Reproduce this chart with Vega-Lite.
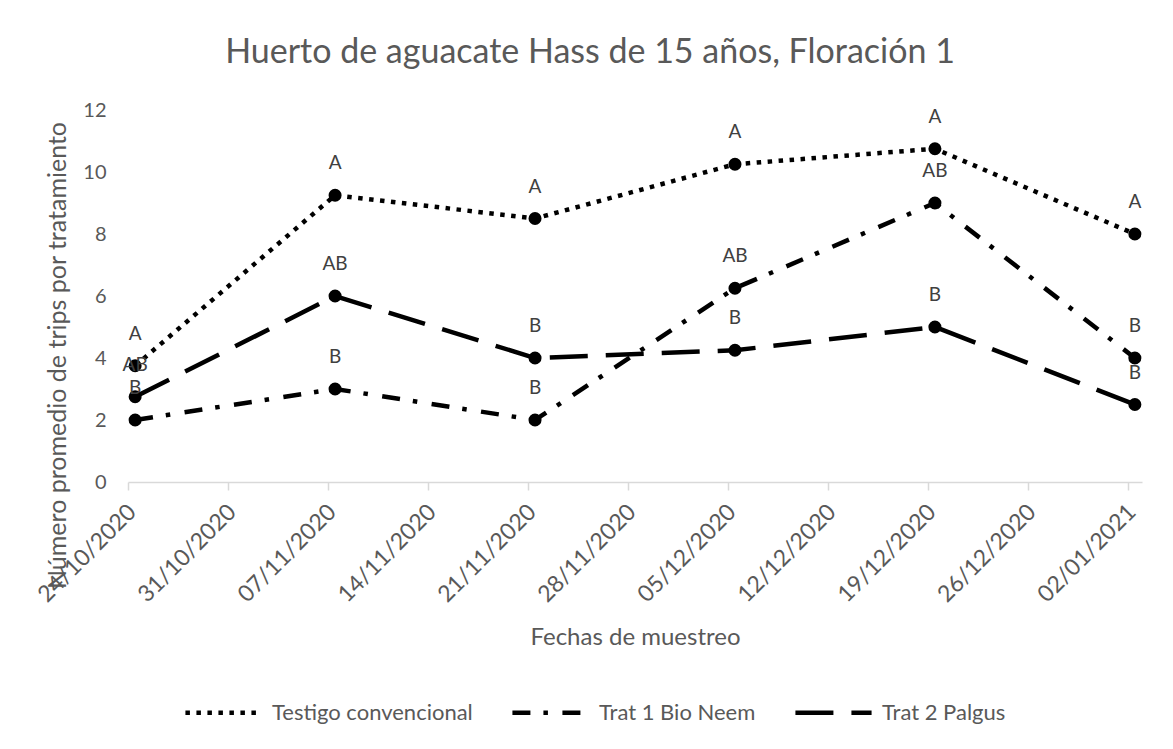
{
  "$schema": "https://vega.github.io/schema/vega-lite/v6.json",
  "width": 1014,
  "height": 372,
  "autosize": {"type": "none"},
  "padding": {"left": 128, "top": 110, "right": 31, "bottom": 267},
  "background": "white",
  "config": {"font": "Lato", "view": {"stroke": null}},
  "title": {
    "text": "Huerto de aguacate Hass de 15 años, Floración 1",
    "fontSize": 34,
    "fontWeight": "normal",
    "color": "#595959",
    "anchor": "middle",
    "dx": -45,
    "offset": 30
  },
  "data": {
    "values": [
      {"fecha": "2020-10-24", "serie": "Testigo convencional", "valor": 3.75, "letra": "A"},
      {"fecha": "2020-11-07", "serie": "Testigo convencional", "valor": 9.25, "letra": "A"},
      {"fecha": "2020-11-21", "serie": "Testigo convencional", "valor": 8.5, "letra": "A"},
      {"fecha": "2020-12-05", "serie": "Testigo convencional", "valor": 10.25, "letra": "A"},
      {"fecha": "2020-12-19", "serie": "Testigo convencional", "valor": 10.75, "letra": "A"},
      {"fecha": "2021-01-02", "serie": "Testigo convencional", "valor": 8, "letra": "A"},
      {"fecha": "2020-10-24", "serie": "Trat 1 Bio Neem", "valor": 2, "letra": "B"},
      {"fecha": "2020-11-07", "serie": "Trat 1 Bio Neem", "valor": 3, "letra": "B"},
      {"fecha": "2020-11-21", "serie": "Trat 1 Bio Neem", "valor": 2, "letra": "B"},
      {"fecha": "2020-12-05", "serie": "Trat 1 Bio Neem", "valor": 6.25, "letra": "AB"},
      {"fecha": "2020-12-19", "serie": "Trat 1 Bio Neem", "valor": 9, "letra": "AB"},
      {"fecha": "2021-01-02", "serie": "Trat 1 Bio Neem", "valor": 4, "letra": "B"},
      {"fecha": "2020-10-24", "serie": "Trat 2 Palgus", "valor": 2.75, "letra": "AB"},
      {"fecha": "2020-11-07", "serie": "Trat 2 Palgus", "valor": 6, "letra": "AB"},
      {"fecha": "2020-11-21", "serie": "Trat 2 Palgus", "valor": 4, "letra": "B"},
      {"fecha": "2020-12-05", "serie": "Trat 2 Palgus", "valor": 4.25, "letra": "B"},
      {"fecha": "2020-12-19", "serie": "Trat 2 Palgus", "valor": 5, "letra": "B"},
      {"fecha": "2021-01-02", "serie": "Trat 2 Palgus", "valor": 2.5, "letra": "B"}
    ]
  },
  "encoding": {
    "x": {
      "field": "fecha",
      "type": "temporal",
      "timeUnit": "utcyearmonthdate",
      "bandPosition": 0.5,
      "scale": {
        "type": "utc",
        "domain": [
          {"year": 2020, "month": 10, "date": 24, "utc": true},
          {"year": 2021, "month": 1, "date": 3, "utc": true}
        ]
      },
      "axis": {
        "values": [
          {"year": 2020, "month": 10, "date": 24, "utc": true},
          {"year": 2020, "month": 10, "date": 31, "utc": true},
          {"year": 2020, "month": 11, "date": 7, "utc": true},
          {"year": 2020, "month": 11, "date": 14, "utc": true},
          {"year": 2020, "month": 11, "date": 21, "utc": true},
          {"year": 2020, "month": 11, "date": 28, "utc": true},
          {"year": 2020, "month": 12, "date": 5, "utc": true},
          {"year": 2020, "month": 12, "date": 12, "utc": true},
          {"year": 2020, "month": 12, "date": 19, "utc": true},
          {"year": 2020, "month": 12, "date": 26, "utc": true},
          {"year": 2021, "month": 1, "date": 2, "utc": true}
        ],
        "labelExpr": "utcFormat(datum.value, '%d/%m/%Y')",
        "labelAngle": -45,
        "labelAlign": "right",
        "labelBaseline": "middle",
        "labelFontSize": 23,
        "labelColor": "#595959",
        "labelPadding": 18,
        "labelOffset": 4,
        "labelOverlap": false,
        "labelFlush": false,
        "domainColor": "#d9d9d9",
        "domainWidth": 1.5,
        "tickColor": "#d9d9d9",
        "tickWidth": 1.5,
        "tickSize": 8,
        "grid": false,
        "title": "Fechas de muestreo",
        "titleFontSize": 24,
        "titleFontWeight": "normal",
        "titleColor": "#595959",
        "titleY": 155,
        "titleBaseline": "middle"
      }
    },
    "y": {
      "field": "valor",
      "type": "quantitative",
      "scale": {"domain": [0, 12], "nice": false},
      "axis": {
        "values": [0, 2, 4, 6, 8, 10, 12],
        "labelFontSize": 20,
        "labelColor": "#595959",
        "labelPadding": 22,
        "ticks": false,
        "domain": false,
        "grid": false,
        "title": "Número promedio de trips por tratamiento",
        "titleFontSize": 25,
        "titleFontWeight": "normal",
        "titleColor": "#595959",
        "titleAngle": -90,
        "titleX": -71,
        "titleY": 245,
        "titleAlign": "center",
        "titleBaseline": "middle"
      }
    }
  },
  "layer": [
    {
      "mark": {"type": "line", "strokeWidth": 4.5, "strokeCap": "butt", "color": "black"},
      "encoding": {
        "strokeDash": {
          "field": "serie",
          "type": "nominal",
          "scale": {
            "domain": ["Testigo convencional", "Trat 1 Bio Neem", "Trat 2 Palgus"],
            "range": [[4.5, 6.5], [18, 13, 4.5, 14.5], [38, 18]]
          },
          "legend": {
            "orient": "none",
            "legendX": 55,
            "legendY": 562,
            "direction": "horizontal",
            "title": null,
            "symbolType": "stroke",
            "symbolSize": 5800,
            "symbolStrokeWidth": 4.5,
            "symbolStrokeColor": "black",
            "labelFontSize": 22,
            "labelLimit": 300,
            "labelColor": "#595959",
            "labelOffset": 8,
            "columnPadding": 30
          }
        }
      }
    },
    {
      "mark": {"type": "point", "filled": true, "size": 170, "color": "black", "opacity": 1},
      "encoding": {"detail": {"field": "serie", "type": "nominal"}}
    },
    {
      "mark": {"type": "text", "dy": -32, "fontSize": 19, "color": "#404040", "baseline": "middle"},
      "encoding": {"text": {"field": "letra", "type": "nominal"}}
    }
  ]
}
